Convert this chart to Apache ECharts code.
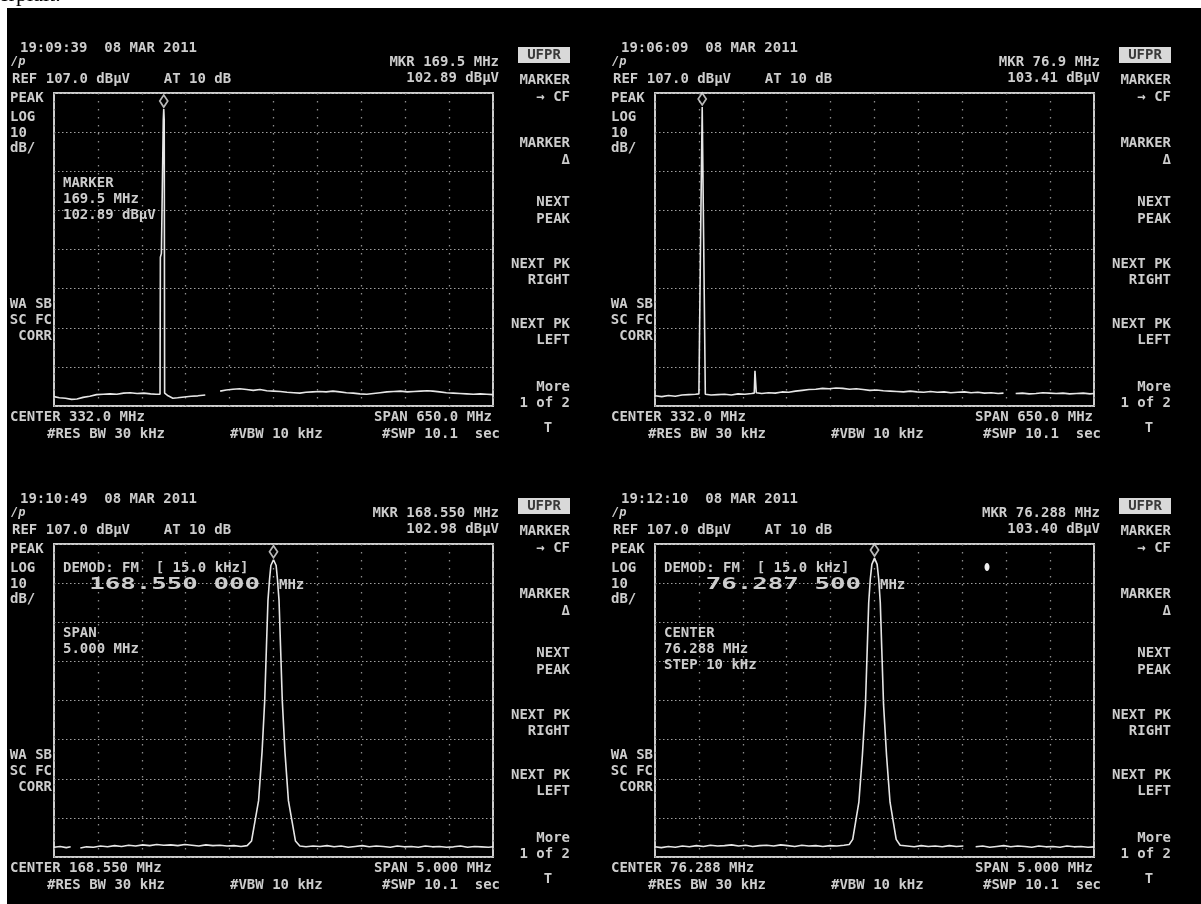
<!DOCTYPE html>
<html><head><meta charset="utf-8">
<script src="https://cdn.jsdelivr.net/npm/echarts@6/dist/echarts.min.js"></script>
<style>html,body{margin:0;padding:0;background:#fff}#c{width:1201px;height:904px}</style>
</head><body><div id="c"></div>
<script>
// ---------- data ----------
const REF_LEVEL = 107.0;          // dBµV at top graticule
const DB_PER_DIV = 10;
const V_DIVS = 8;
const CENTERS = [332.0, 332.0, 168.550, 76.288];   // MHz
const SPANS   = [650.0, 650.0, 5.000, 5.000];      // MHz
const MARKERS = [[169.5, 102.89], [76.9, 103.41], [168.550, 102.98], [76.288, 103.40]];

const TRACE_TL = [
 [7,29.4],[15,29.1],[24,29.0],[33,28.7],[41,28.8],[50,29.2],[60,29.5],[70,29.9],[80,30.0],[90,30.1],
 [100,30.0],[110,30.3],[120,30.4],[130,30.2],[140,30.3],[150,30.1],[158,30.0],[164,30.0],[164.5,65],[166,66],
 [168.8,100],[169.5,102.89],[170.2,100],[170.8,30.3],[176,29.6],[183,29.0],[190,29.1],[200,29.3],[210,29.5],[220,29.6],
 [231,29.8],[240,null],[253,30.8],[262,31.1],[272,31.3],[282,31.4],[292,31.2],[302,31.0],[312,31.2],[322,30.9],
 [332,30.8],[342,30.7],[352,30.5],[362,30.4],[371,30.3],[380,30.5],[390,30.6],[400,30.7],[410,30.6],[420,30.8],
 [430,30.6],[440,30.4],[450,30.3],[460,30.1],[470,30.0],[480,30.2],[490,30.4],[500,30.6],[510,30.7],[520,30.8],
 [530,30.6],[540,30.7],[550,30.8],[560,30.9],[568,30.8],[578,30.6],[588,30.4],[598,30.3],[608,30.2],[618,30.1],
 [628,30.0],[638,30.1],[648,30.0],[657,29.9]
];
const TRACE_TR = [
 [7,29.6],[17,29.4],[27,29.7],[37,29.5],[47,29.8],[57,29.9],[67,30.0],[72,30.1],[74.5,70],[76.9,103.41],
 [79,70],[81.5,30.0],[90,29.8],[100,29.9],[110,30.0],[120,29.8],[130,30.1],[140,30.0],[150,30.2],[154,30.3],
 [155,36],[156,35.5],[157,30.4],[165,30.2],[175,30.4],[185,30.3],[195,30.6],[205,30.5],[215,30.8],[225,31.0],
 [235,31.2],[245,31.3],[255,31.5],[265,31.4],[275,31.6],[285,31.5],[295,31.3],[305,31.4],[315,31.2],[325,31.0],
 [335,31.1],[345,30.9],[355,30.8],[365,30.7],[375,30.6],[385,30.8],[395,30.6],[405,30.5],[415,30.7],[425,30.5],
 [435,30.6],[445,30.4],[455,30.5],[465,30.6],[475,30.4],[485,30.5],[495,30.3],[505,30.4],[515,30.2],[523,30.3],
 [530,null],[541,30.2],[551,30.3],[561,30.1],[571,30.2],[581,30.4],[591,30.3],[601,30.2],[611,30.3],[621,30.1],
 [631,30.2],[641,30.3],[651,30.1],[657,30.2]
];
const TRACE_BL = [
 [166.05,29.5],[166.12,29.7],[166.19,29.4],[166.24,29.6],[166.29,null],[166.35,29.3],[166.42,29.6],[166.50,29.5],
 [166.58,29.8],[166.66,29.6],[166.74,29.9],[166.82,29.7],[166.90,30.0],[166.98,29.8],[167.06,30.1],[167.14,29.9],
 [167.22,30.2],[167.30,30.0],[167.38,30.1],[167.46,29.9],[167.54,30.2],[167.62,30.0],[167.70,29.8],[167.78,30.1],
 [167.86,29.9],[167.94,30.0],[168.02,29.8],[168.10,29.9],[168.18,29.7],[168.25,29.9],
 [168.30,31.1],[168.38,41.4],[168.42,54],[168.45,67],[168.47,81],[168.487,92.6],[168.505,98],[168.52,101.5],
 [168.55,102.98],[168.58,101.5],[168.595,98],[168.613,92.6],[168.63,81],[168.65,67],[168.68,54],[168.72,41.4],
 [168.80,31.1],[168.85,29.8],[168.92,29.6],[169.00,29.8],[169.08,29.7],[169.16,29.9],[169.24,29.6],[169.32,29.8],
 [169.40,29.5],[169.48,29.7],[169.56,29.9],[169.64,29.6],[169.72,29.8],[169.80,29.7],[169.88,29.5],[169.96,29.8],
 [170.04,29.6],[170.12,29.7],[170.20,29.5],[170.28,29.8],[170.36,29.6],[170.44,29.7],[170.52,29.5],[170.60,29.6],
 [170.68,29.8],[170.76,29.5],[170.84,29.7],[170.92,29.6],[171.00,29.5],[171.05,29.6]
];
const TRACE_BR = [
 [73.788,29.6],[73.86,29.4],[73.94,29.7],[74.02,29.5],[74.10,29.8],[74.18,29.6],[74.26,29.9],[74.34,29.7],
 [74.42,30.0],[74.50,29.8],[74.58,29.9],[74.66,30.1],[74.74,29.8],[74.82,30.0],[74.90,29.7],[74.98,29.9],
 [75.06,30.0],[75.14,29.8],[75.22,30.1],[75.30,29.9],[75.38,29.7],[75.46,30.0],[75.54,29.8],[75.62,29.9],
 [75.70,29.7],[75.78,29.9],[75.86,29.8],[75.94,30.0],[76.00,30.2],[76.04,31.5],[76.11,41],[76.15,53],
 [76.185,66],[76.205,80],[76.222,92],[76.24,98],[76.258,101.8],[76.288,103.40],[76.318,101.8],[76.336,98],
 [76.354,92],[76.371,80],[76.391,66],[76.425,53],[76.465,41],[76.535,31.5],[76.58,30.0],[76.66,29.8],
 [76.74,29.6],[76.82,29.9],[76.90,29.7],[76.98,29.8],[77.06,29.6],[77.14,29.9],[77.22,29.7],[77.30,29.8],
 [77.34,null],[77.44,29.6],[77.52,29.8],[77.60,29.5],[77.68,29.7],[77.76,29.9],[77.84,29.6],[77.92,29.8],
 [78.00,29.7],[78.08,29.5],[78.16,29.8],[78.24,29.6],[78.32,29.7],[78.40,29.5],[78.48,29.8],[78.56,29.6],
 [78.64,29.7],[78.72,29.5],[78.788,29.6]
];
const TRACES = [TRACE_TL, TRACE_TR, TRACE_BL, TRACE_BR];

// ---------- texts ----------
const TIMES = ['19:09:39  08 MAR 2011', '19:06:09  08 MAR 2011', '19:10:49  08 MAR 2011', '19:12:10  08 MAR 2011'];
const MKR_FREQ_TEXT = ['MKR 169.5 MHz', 'MKR 76.9 MHz', 'MKR 168.550 MHz', 'MKR 76.288 MHz'];
const MKR_LEVEL_TEXT = ['102.89 dBµV', '103.41 dBµV', '102.98 dBµV', '103.40 dBµV'];
const CENTER_TEXT = ['CENTER 332.0 MHz', 'CENTER 332.0 MHz', 'CENTER 168.550 MHz', 'CENTER 76.288 MHz'];
const SPAN_TEXT = ['SPAN 650.0 MHz', 'SPAN 650.0 MHz', 'SPAN 5.000 MHz', 'SPAN 5.000 MHz'];
const BIG_FREQ_TEXT = [null, null, '168.550 000', '76.287 500'];
const INNER_NOTES = [['MARKER', '169.5 MHz', '102.89 dBµV'], [], ['SPAN', '5.000 MHz'], ['CENTER', '76.288 MHz', 'STEP 10 kHz']];
const SOFTKEYS = [['MARKER',80],['→ CF',97],['MARKER',143],['Δ',160],['NEXT',202],['PEAK',219],
  ['NEXT PK',264],['RIGHT',280],['NEXT PK',324],['LEFT',340],['More',387],['1 of 2',403]];

// ---------- layout ----------
const OFFSETS = [[0,0],[601,0],[0,451],[601,451]];
const BOX = {left: 54, top: 93, width: 439, height: 313};
const TXT = '#cdcdcd';
const FONT = 'bold 14px "DejaVu Sans Mono", monospace';

function T(x, y, text, align, extra) {
  const el = {type: 'text', x: x, y: y, silent: true, z: 10,
    style: {text: text, fill: TXT, font: FONT, textAlign: align || 'left', textVerticalAlign: 'middle',
            align: align || 'left', verticalAlign: 'middle'}};
  if (extra) Object.assign(el, extra);
  return el;
}

const graphics = [
  {type: 'text', x: -1, y: 6, z: 0, silent: true,
   style: {text: 'erpiait.', fill: '#000', font: '22px "Liberation Serif", serif', textVerticalAlign: 'bottom', verticalAlign: 'bottom'}},
  {type: 'rect', shape: {x: 7, y: 8, width: 1194, height: 896}, style: {fill: '#000'}, z: -10, silent: true}
];

const grids = [], xAxes = [], yAxes = [], series = [];
OFFSETS.forEach(function (o, i) {
  const dx = o[0], dy = o[1];
  grids.push({left: BOX.left + dx, top: BOX.top + dy, width: BOX.width, height: BOX.height,
    show: true, borderColor: '#cdcdcd', borderWidth: 2, backgroundColor: 'transparent'});
  const half = SPANS[i] / 2;
  xAxes.push({type: 'value', gridIndex: i, min: -half, max: half, interval: SPANS[i] / 10,
    axisLine: {show: false}, axisTick: {show: false}, axisLabel: {show: false},
    splitLine: {show: true, lineStyle: {color: '#8c8c8c', width: 1.3, type: [1.5, 6.5]}}});
  yAxes.push({type: 'value', gridIndex: i, min: -DB_PER_DIV * V_DIVS, max: 0, interval: DB_PER_DIV,
    axisLine: {show: false}, axisTick: {show: false}, axisLabel: {show: false},
    splitLine: {show: true, lineStyle: {color: '#a0a0a0', width: 1.2, type: [1.5, 2.5]}}});
  series.push({type: 'line', xAxisIndex: i, yAxisIndex: i, showSymbol: false, silent: true,
    connectNulls: false, animation: false,
    lineStyle: {color: '#e6e6e6', width: 1.6},
    data: TRACES[i].map(function (p) { return [p[0] - CENTERS[i], p[1] === null ? '-' : p[1] - REF_LEVEL]; })});
  series.push({type: 'scatter', xAxisIndex: i, yAxisIndex: i, silent: true, animation: false, z: 5,
    symbol: 'diamond', symbolSize: [8, 12], symbolOffset: [0, -8],
    itemStyle: {color: '#000', borderColor: '#e6e6e6', borderWidth: 1.8},
    data: [[MARKERS[i][0] - CENTERS[i], MARKERS[i][1] - REF_LEVEL]]});

  // header texts
  graphics.push(T(20 + dx, 48 + dy, TIMES[i]));
  graphics.push(T(11 + dx, 62 + dy, '/p', 'left', {style: {text: '/p', fill: TXT, font: 'italic bold 12px "DejaVu Sans Mono", monospace', verticalAlign: 'middle', textVerticalAlign: 'middle'}}));
  graphics.push(T(12 + dx, 79 + dy, 'REF 107.0 dBµV    AT 10 dB'));
  graphics.push(T(499 + dx, 62 + dy, MKR_FREQ_TEXT[i], 'right'));
  graphics.push(T(499 + dx, 78 + dy, MKR_LEVEL_TEXT[i], 'right'));
  // left column
  [['PEAK',98],['LOG',117],['10',133],['dB/',148]].forEach(function (a) { graphics.push(T(10 + dx, a[1] + dy, a[0])); });
  [['WA SB',304],['SC FC',320],['CORR',336]].forEach(function (a) { graphics.push(T(52 + dx, a[1] + dy, a[0], 'right')); });
  // footer
  graphics.push(T(10 + dx, 417 + dy, CENTER_TEXT[i]));
  graphics.push(T(47 + dx, 434 + dy, '#RES BW 30 kHz'));
  graphics.push(T(230 + dx, 434 + dy, '#VBW 10 kHz'));
  graphics.push(T(492 + dx, 417 + dy, SPAN_TEXT[i], 'right'));
  graphics.push(T(500 + dx, 434 + dy, '#SWP 10.1  sec', 'right'));
  // softkeys
  graphics.push({type: 'rect', shape: {x: 518 + dx, y: 47 + dy, width: 52, height: 16}, style: {fill: '#d9d9d9'}, z: 9, silent: true});
  graphics.push(T(544 + dx, 55 + dy, 'UFPR', 'center', {style: {text: 'UFPR', fill: '#3a3a3a', font: FONT, align: 'center', textAlign: 'center', verticalAlign: 'middle', textVerticalAlign: 'middle'}}));
  SOFTKEYS.forEach(function (a) { graphics.push(T(570 + dx, a[1] + dy, a[0], 'right')); });
  graphics.push(T(548 + dx, 428 + dy, 'T', 'center'));
  // inner notes
  const notes = INNER_NOTES[i];
  const noteTop = BIG_FREQ_TEXT[i] ? 633 - 451 : 183;
  notes.forEach(function (s, k) { graphics.push(T(63 + dx, noteTop + k * 16 + dy, s)); });
  if (BIG_FREQ_TEXT[i]) {
    graphics.push(T(63 + dx, 568 - 451 + dy, 'DEMOD: FM  [ 15.0 kHz]'));
    graphics.push({type: 'text', x: 260 + dx, y: 585 - 451 + dy, scaleX: 1.72, silent: true, z: 10,
      style: {text: BIG_FREQ_TEXT[i], fill: TXT, font: 'bold 15px "DejaVu Sans Mono", monospace',
              align: 'right', textAlign: 'right', verticalAlign: 'middle', textVerticalAlign: 'middle'}});
    graphics.push(T(279 + dx, 585 - 451 + dy, 'MHz'));
  }
});
graphics.push({type: 'ellipse', shape: {cx: 987, cy: 567, rx: 2.5, ry: 4}, style: {fill: '#eeeeee'}, z: 10, silent: true});

const chart = echarts.init(document.getElementById('c'), null, {renderer: 'canvas'});
chart.setOption({
  backgroundColor: '#ffffff',
  animation: false,
  grid: grids, xAxis: xAxes, yAxis: yAxes, series: series,
  graphic: {elements: graphics}
});
</script></body></html>
